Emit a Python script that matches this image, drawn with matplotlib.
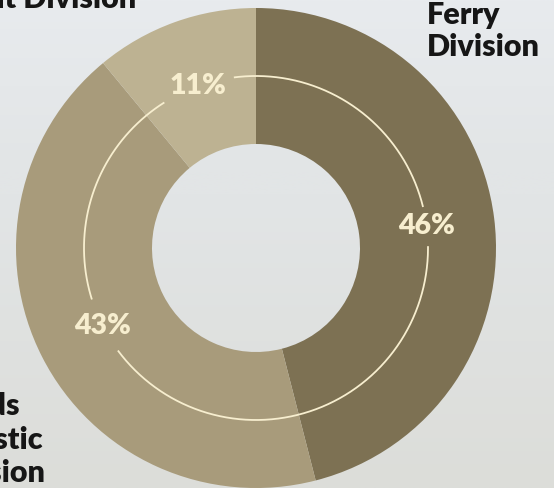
import matplotlib.pyplot as plt
import numpy as np

# division shares (percent), clockwise from 12 o'clock
divisions = ['Ferry Division', 'Goods Domestic Division', 'Freight Division']
shares = [46, 43, 11]
colors = ['#7d7153', '#a89b7b', '#bdb292']

W, H = 554, 488
cx, cy = 256, 240
r_out, r_in, r_ring = 240, 104, 172
cream = '#f7eecf'

plt.rcParams['font.family'] = ['Lato', 'DejaVu Sans']

fig = plt.figure(figsize=(W / 100, H / 100), dpi=100)
ax = fig.add_axes([0, 0, 1, 1])

# soft sky/sea backdrop
rows = np.linspace(0, 1, 200)
top = np.array([0xe8, 0xeb, 0xee]) / 255
mid = np.array([0xe2, 0xe5, 0xe6]) / 255
low = np.array([0xdc, 0xdd, 0xd9]) / 255
bg = np.empty((200, 1, 3))
for k in range(3):
    bg[:, 0, k] = np.interp(rows, [0, 0.35, 0.4, 1], [top[k], mid[k], mid[k], low[k]])
ax.imshow(bg, extent=[0, W, 0, H], aspect='auto', zorder=0)

# the donut itself
wedges, _ = ax.pie(shares, colors=colors, startangle=90, counterclock=False,
                   radius=r_out, center=(cx, cy),
                   wedgeprops=dict(width=r_out - r_in, linewidth=0))
for w in wedges:
    w.set_zorder(1)

# percentage labels sit on the thin ring, centred in each wedge
mids = []
for w in wedges:
    mids.append(np.deg2rad((w.theta1 + w.theta2) / 2))

lab_w, lab_h, pad = 62, 24, 4
gaps = []
for share, th in zip(shares, mids):
    x = cx + r_ring * np.cos(th)
    y = cy + r_ring * np.sin(th)
    ax.text(x, y, f'{share}%', color=cream, fontsize=20.5, fontweight='heavy',
            ha='center', va='center', zorder=3)
    half = (lab_w * abs(np.sin(th)) + lab_h * abs(np.cos(th))) / 2 + pad
    gaps.append((th, half / r_ring))

# thin ring broken where the labels are
gaps.sort()
for i, (th, g) in enumerate(gaps):
    nth, ng = gaps[(i + 1) % len(gaps)]
    if nth <= th:
        nth += 2 * np.pi
    t = np.linspace(th + g, nth - ng, 200)
    ax.plot(cx + r_ring * np.cos(t), cy + r_ring * np.sin(t),
            color=cream, lw=1.3, zorder=2, solid_capstyle='butt')

# division names around the chart
name_kw = dict(fontsize=22, fontweight='heavy', color='#161616', va='baseline', zorder=4)
ax.text(136, H - 8, 'Freight Division', ha='right', **name_kw)
ax.text(427, H - 24, 'Ferry', ha='left', **name_kw)
ax.text(427, H - 56, 'Division', ha='left', **name_kw)
ax.text(20, H - 415, 'Goods', ha='right', **name_kw)
ax.text(44, H - 449, 'Domestic', ha='right', **name_kw)
ax.text(46, H - 482, 'Division', ha='right', **name_kw)

ax.set_xlim(0, W)
ax.set_ylim(0, H)
ax.set_axis_off()

fig.savefig('out.png', dpi=100)
